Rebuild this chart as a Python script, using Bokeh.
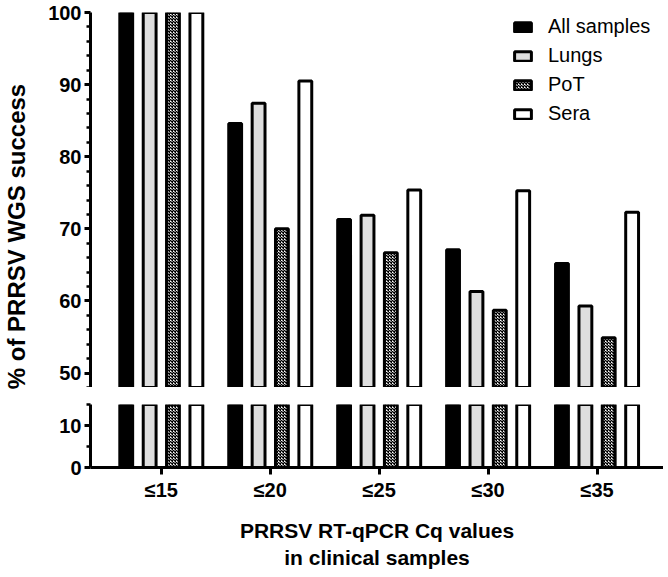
from bokeh.plotting import figure
from bokeh.layouts import row, column
from bokeh.models import (ColumnDataSource, FixedTicker, Legend, LegendItem,
                          Range1d, Title)
from bokeh.transform import dodge
from bokeh.embed import file_html
from bokeh.resources import INLINE

# ---- data ----
categories = ["≤15", "≤20", "≤25", "≤30", "≤35"]
series_names = ["All samples", "Lungs", "PoT", "Sera"]
all_samples = [100.0, 84.6, 71.3, 67.1, 65.2]
lungs = [100.0, 87.4, 71.9, 61.3, 59.3]
pot = [100.0, 70.0, 66.7, 58.7, 54.9]
sera = [100.0, 90.5, 75.4, 75.3, 72.3]

upper_ticks = [50, 60, 70, 80, 90, 100]
upper_minor = [v for v in range(48, 101, 2) if v % 10 != 0]
lower_ticks = [0, 10]
lower_minor = [5, 15]

FONT = "Liberation Sans"

pos = list(range(len(categories)))
src = ColumnDataSource(dict(x=pos, all=all_samples, lungs=lungs, pot=pot, sera=sera))

x_range = Range1d(-0.65, 4.61)

offsets = [-0.322, -0.107, 0.107, 0.322]
fields = ["all", "lungs", "pot", "sera"]
styles = [
    dict(fill_color="black"),
    dict(fill_color="#dedede"),
    dict(fill_color="white", hatch_pattern="diagonal_cross", hatch_color="black",
         hatch_scale=3.0, hatch_weight=1.3),
    dict(fill_color="white"),
]


def make_fig(height, yr, top_border, bottom_border, with_xaxis):
    p = figure(width=622, height=height, x_range=x_range, y_range=yr,
               output_backend="svg", toolbar_location=None,
               x_axis_location="below" if with_xaxis else None,
               min_border_left=49, min_border_right=0,
               min_border_top=top_border, min_border_bottom=bottom_border)
    p.xgrid.visible = False
    p.ygrid.visible = False
    p.outline_line_color = None
    renderers = []
    for off, f, st in zip(offsets, fields, styles):
        r = p.vbar(x=dodge("x", off, range=x_range), top=f, bottom=0, width=0.118,
                   source=src, line_color="black", line_width=3, **st)
        renderers.append(r)
    ax = p.yaxis[0]
    ax.axis_line_width = 3
    ax.major_tick_line_width = 3
    ax.minor_tick_line_width = 2.5
    ax.major_tick_out = 6
    ax.major_tick_in = 0
    ax.minor_tick_out = 4
    ax.minor_tick_in = 0
    ax.major_label_standoff = 3
    ax.major_label_text_font = FONT
    ax.major_label_text_font_style = "bold"
    ax.major_label_text_font_size = "20px"
    ax.major_label_text_color = "black"
    return p, renderers


upper, rends = make_fig(387, Range1d(48, 100), 12, 0, False)
upper.yaxis[0].ticker = FixedTicker(ticks=upper_ticks, minor_ticks=upper_minor)

legend = Legend(items=[LegendItem(label=n, renderers=[r]) for n, r in zip(series_names, rends)],
                location=(422, 262), padding=0, margin=0, spacing=6,
                glyph_width=21, glyph_height=12, label_standoff=15, label_height=23,
                border_line_color=None, background_fill_alpha=0,
                label_text_font=FONT, label_text_font_size="20px", label_text_color="black")
upper.add_layout(legend)

lower, _ = make_fig(188, Range1d(0, 15), 17, 108, True)
lower.yaxis[0].ticker = FixedTicker(ticks=lower_ticks, minor_ticks=lower_minor)
xa = lower.xaxis[0]
xa.ticker = FixedTicker(ticks=pos, minor_ticks=[])
xa.major_label_overrides = {i: c for i, c in zip(pos, categories)}
xa.axis_line_width = 3
xa.major_tick_line_width = 3
xa.major_tick_out = 7
xa.major_tick_in = 0
xa.minor_tick_out = 0
xa.major_label_standoff = 4
xa.major_label_text_font = FONT
xa.major_label_text_font_style = "bold"
xa.major_label_text_font_size = "20px"
xa.major_label_text_color = "black"
xa.axis_label = "PRRSV RT-qPCR Cq values\nin clinical samples"
xa.axis_label_standoff = 15
xa.axis_label_text_font = FONT
xa.axis_label_text_font_style = "bold"
xa.axis_label_text_font_size = "21px"
xa.axis_label_text_color = "black"

# narrow figure carrying the shared y-axis title
tfig = figure(width=41, height=575, output_backend="svg", toolbar_location=None,
              x_axis_location=None, y_axis_location=None, title=None,
              min_border_left=0, min_border_right=0, min_border_top=0,
              min_border_bottom=103, x_range=Range1d(0, 1), y_range=Range1d(0, 1))
tfig.outline_line_color = None
tfig.xgrid.visible = False
tfig.ygrid.visible = False
tfig.add_layout(Title(text="% of PRRSV WGS success", align="center",
                      text_font=FONT, text_font_style="bold", text_font_size="24px",
                      text_color="black", standoff=0, offset=0), "left")

layout = row(tfig, column(upper, lower, spacing=0), spacing=0)

open("out.html", "w").write(file_html(layout, INLINE))
